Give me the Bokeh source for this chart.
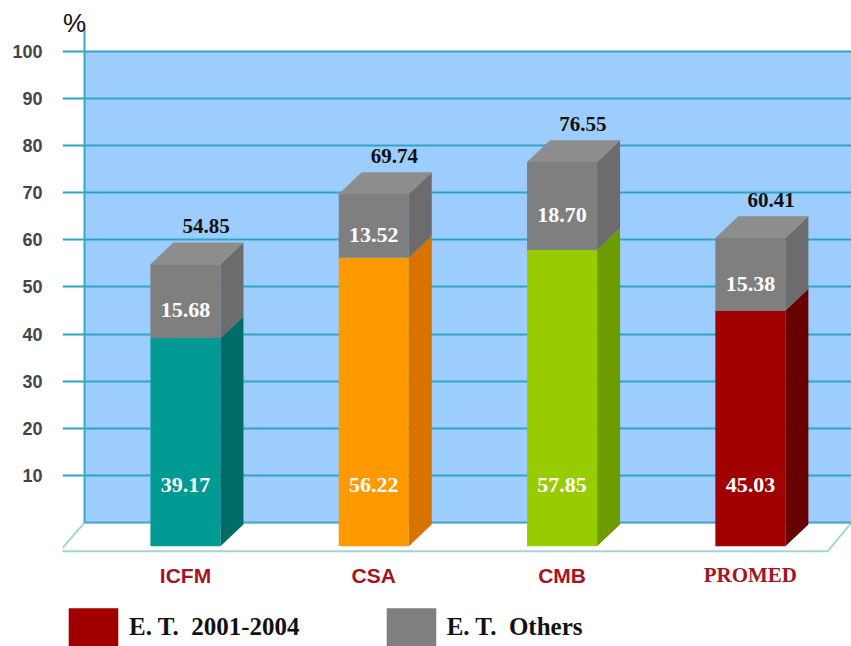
from bokeh.plotting import figure
from bokeh.models import ColumnDataSource, FixedTicker, Legend, LegendItem
from bokeh.core.properties import value
from bokeh.embed import file_html
from bokeh.resources import INLINE

# ---- data ----
categories = ["ICFM", "CSA", "CMB", "PROMED"]
et_2001_2004 = [39.17, 56.22, 57.85, 45.03]
et_others = [15.68, 13.52, 18.70, 15.38]
totals = [54.85, 69.74, 76.55, 60.41]
y_ticks = [10, 20, 30, 40, 50, 60, 70, 80, 90, 100]
legend_labels = ["E. T.  2001-2004", "E. T.  Others"]

# ---- styles ----
front_colors = ["#009a95", "#ff9900", "#99cc00", "#a00000"]
side_colors = ["#006c68", "#d87300", "#6c9c00", "#680000"]
gray_front, gray_side, gray_top = "#7f7f7f", "#6c6c6c", "#8d8d8d"
cat_fonts = ["Liberation Sans", "Liberation Sans", "Liberation Sans", "Liberation Serif"]

HW, DX, DY, FLOOR = 0.186, 0.122, 4.6, -5.0
WALL_X = -0.536

n = len(categories)
xc = list(range(n))
stack_tops = [a + b for a, b in zip(et_2001_2004, et_others)]

p = figure(width=851, height=646, x_range=(-0.653, 3.537), y_range=(-26.3, 110.8),
           output_backend="svg", toolbar_location=None,
           min_border_left=62, min_border_right=0, min_border_top=0, min_border_bottom=0)
p.outline_line_color = None
p.background_fill_color = "white"
p.border_fill_color = "white"
p.xaxis.visible = False
p.xgrid.visible = False

p.yaxis.ticker = FixedTicker(ticks=y_ticks)
p.ygrid.ticker = FixedTicker(ticks=y_ticks)
p.yaxis.axis_line_color = None
p.yaxis.major_tick_line_color = None
p.yaxis.minor_tick_line_color = None
p.yaxis.major_tick_out = 0
p.yaxis.major_tick_in = 0
p.yaxis.major_label_standoff = 20
p.yaxis.major_label_text_font = "Liberation Sans"
p.yaxis.major_label_text_font_size = "18px"
p.yaxis.major_label_text_font_style = "bold"
p.yaxis.major_label_text_color = "#454545"
p.ygrid.grid_line_color = "#2fa4c6"
p.ygrid.grid_line_width = 2

# back wall (below grid lines)
p.quad(left=[WALL_X], right=[3.7], bottom=[0], top=[100], fill_color="#9dcdfc",
       line_color=None, level="image")
# floor
p.patch(x=[-0.669, 3.41, 3.537, WALL_X], y=[-6.1, -6.1, 0, 0], fill_color="white",
        line_color="#a6d4d4", line_width=2)
p.segment(x0=[WALL_X], y0=[0], x1=[3.7], y1=[0], line_color="#4f9fd8", line_width=2)
p.segment(x0=[WALL_X], y0=[0], x1=[WALL_X], y1=[105], line_color="#3aa6c8", line_width=2)

# bottom segments (E.T. 2001-2004)
src_low = ColumnDataSource(dict(
    left=[x - HW for x in xc], right=[x + HW for x in xc],
    bottom=[FLOOR] * n, top=et_2001_2004, color=front_colors))
r_low = p.quad(left="left", right="right", bottom="bottom", top="top",
               fill_color="color", line_color=None, source=src_low)
p.patches(xs=[[x + HW, x + HW + DX, x + HW + DX, x + HW] for x in xc],
          ys=[[FLOOR, FLOOR + DY, t + DY, t] for t in et_2001_2004],
          fill_color=side_colors, line_color=None)

# top segments (E.T. Others)
src_high = ColumnDataSource(dict(
    left=[x - HW for x in xc], right=[x + HW for x in xc],
    bottom=et_2001_2004, top=stack_tops))
r_high = p.quad(left="left", right="right", bottom="bottom", top="top",
                fill_color=gray_front, line_color=None, source=src_high)
p.patches(xs=[[x + HW, x + HW + DX, x + HW + DX, x + HW] for x in xc],
          ys=[[b, b + DY, t + DY, t] for b, t in zip(et_2001_2004, stack_tops)],
          fill_color=gray_side, line_color=None)
p.patches(xs=[[x - HW, x + HW, x + HW + DX, x - HW + DX] for x in xc],
          ys=[[t, t, t + DY, t + DY] for t in stack_tops],
          fill_color=gray_top, line_color=None)

# value labels
p.text(x=xc, y=[8] * n, text=[f"{v:.2f}" for v in et_2001_2004],
       text_font=value("Liberation Serif"), text_font_style="bold", text_font_size="22px",
       text_color="white", text_align="center", text_baseline="middle")
p.text(x=xc, y=[(b + t) / 2 - 2 for b, t in zip(et_2001_2004, stack_tops)],
       text=[f"{v:.2f}" for v in et_others],
       text_font=value("Liberation Serif"), text_font_style="bold", text_font_size="22px",
       text_color="white", text_align="center", text_baseline="middle")
p.text(x=[x + 0.11 for x in xc], y=[t + 8 for t in totals], text=[f"{v:.2f}" for v in totals],
       text_font=value("Liberation Serif"), text_font_style="bold", text_font_size="21px",
       text_color="#111111", text_align="center", text_baseline="middle")

# category labels
src_cat = ColumnDataSource(dict(x=xc, y=[-11.2] * n, text=categories, font=cat_fonts))
p.text(x="x", y="y", text="text", source=src_cat, text_font="font", text_font_style="bold",
       text_font_size="21px", text_color="#a3151f", text_align="center", text_baseline="middle")

# % unit label
p.text(x=[-0.589], y=[106.0], text=["%"], text_font=value("Liberation Sans"),
       text_font_size="26px", text_color="#111111", text_align="center", text_baseline="middle")

legend = Legend(items=[LegendItem(label=legend_labels[0], renderers=[r_low], index=3),
                       LegendItem(label=legend_labels[1], renderers=[r_high])],
                orientation="horizontal", location=(0, -5), glyph_width=62, glyph_height=48,
                label_standoff=5, spacing=80, padding=0, margin=0,
                border_line_color=None, background_fill_alpha=0,
                label_text_font="Liberation Serif", label_text_font_style="bold",
                label_text_font_size="25px", label_text_color="#111111")
p.add_layout(legend, "center")

open("out.html", "w").write(file_html(p, INLINE))
